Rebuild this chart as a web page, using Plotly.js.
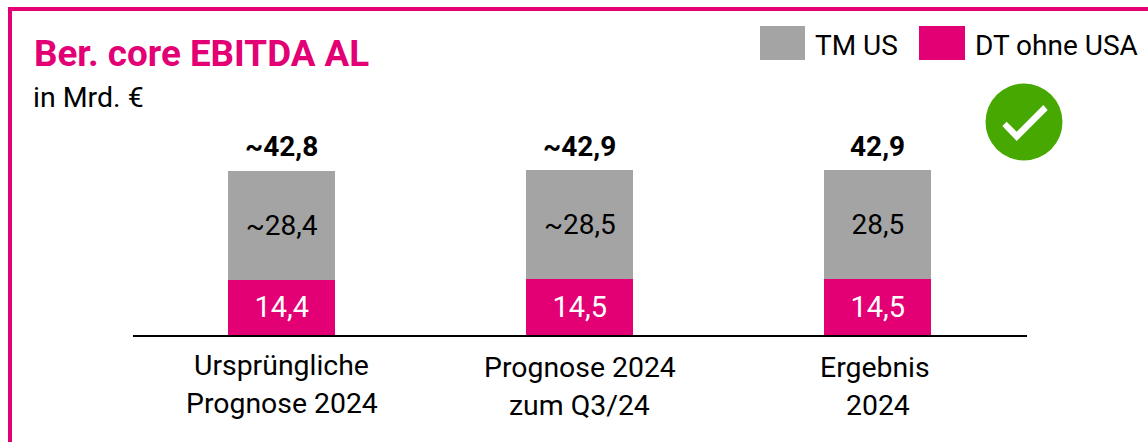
<!DOCTYPE html>
<html>
<head>
<meta charset="utf-8">
<script src="https://cdn.plot.ly/plotly-3.0.1.min.js"></script>
<style>html,body{margin:0;padding:0;background:#fff}#chart{width:1148px;height:442px}</style>
</head>
<body>
<div id="chart"></div>
<script>
var categories = ["Ursprüngliche Prognose 2024", "Prognose 2024 zum Q3/24", "Ergebnis 2024"];
var catLine1 = ["Ursprüngliche", "Prognose 2024", "Ergebnis"];
var catLine2 = ["Prognose 2024", "zum Q3/24", "2024"];
var dtOhneUsa = [14.4, 14.5, 14.5];
var tmUs = [28.4, 28.5, 28.5];
var totals = [42.8, 42.9, 42.9];
var dtLabels = ["14,4", "14,5", "14,5"];
var tmLabels = ["~28,4", "~28,5", "28,5"];
var totalLabels = ["~42,8", "~42,9", "42,9"];

var W = 1148, H = 442;
var MAGENTA = "#E20074", GRAY = "#A4A4A4", GREEN = "#46A800";
var FONT = "Roboto, Inter, sans-serif";
function px(x){ return x / W; }
function py(y){ return 1 - y / H; }
function txt(text, x, y, size, color, anchor, bold){
  return {text: bold ? "<b>"+text+"</b>" : text, xref:"paper", yref:"paper", x:px(x), y:py(y),
    xanchor:anchor, yanchor:"middle", showarrow:false,
    font:{family:FONT, size:size, color:color}};
}
function rect(x0,y0,x1,y1,color){
  return {type:"rect", xref:"paper", yref:"paper", x0:px(x0), x1:px(x1), y0:py(y0), y1:py(y1),
    fillcolor:color, line:{width:0}, layer:"above"};
}

var annotations = [
  txt("Ber. core EBITDA AL", 32, 53, 36.8, MAGENTA, "left", true),
  txt("in Mrd. €", 31, 97, 28.5, "#000", "left"),
  txt("TM US", 813, 46, 28, "#000", "left"),
  txt("DT ohne USA", 973, 46, 28, "#000", "left")
];
var lineYs = [[365,403],[367,405],[367,405]];
var line1Dx = [0, 0, -2.5];
categories.forEach(function(c,i){
  var cx = 132.5 + 298*(i+0.5);
  annotations.push(txt(catLine1[i], cx + line1Dx[i], lineYs[i][0], 28.4, "#000", "center"));
  annotations.push(txt(catLine2[i], cx, lineYs[i][1], 28.4, "#000", "center"));
  annotations.push({text:"<b>"+totalLabels[i]+"</b>", xref:"x", yref:"y", x:c, y:totals[i],
    xanchor:"center", yanchor:"bottom", yshift:6, showarrow:false,
    font:{family:FONT, size:28, color:"#000"}});
});

var shapes = [
  rect(8,7,1148,11,MAGENTA),
  rect(8,7,12,442,MAGENTA),
  rect(760,26,805,60,GRAY),
  rect(919,26,965,60,MAGENTA),
  {type:"circle", xref:"paper", yref:"paper", x0:px(985.5), x1:px(1062.5), y0:py(83.5), y1:py(160.5),
   fillcolor:GREEN, line:{width:0}, layer:"above"},
  {type:"path", xref:"paper", yref:"paper",
   path:"M "+[[1006.7,121.7],[1002.3,126],[1016.7,141],[1047.7,110],[1043.3,105],[1016.7,131.7]]
     .map(function(p){return px(p[0])+","+py(p[1]);}).join(" L ")+" Z",
   fillcolor:"#fff", line:{width:0}, layer:"above"}
];

var traces = [
  {type:"bar", name:"DT ohne USA", x:categories, y:dtOhneUsa, text:dtLabels, marker:{color:MAGENTA},
   textposition:"inside", insidetextanchor:"middle", textangle:0, constraintext:"none",
   textfont:{family:FONT, size:29, color:"#fff"}, hoverinfo:"skip", cliponaxis:false},
  {type:"bar", name:"TM US", x:categories, y:tmUs, text:tmLabels, marker:{color:GRAY},
   textposition:"inside", insidetextanchor:"middle", textangle:0, constraintext:"none",
   textfont:{family:FONT, size:28, color:"#000"}, hoverinfo:"skip", cliponaxis:false}
];

var layout = {
  width:W, height:H, margin:{l:0,r:0,t:0,b:0,pad:0},
  paper_bgcolor:"#fff", plot_bgcolor:"#fff",
  barmode:"stack", bargap:0.642, showlegend:false,
  xaxis:{domain:[px(132.8),px(1026.8)], type:"category", range:[-0.5,2.5], fixedrange:true,
    showticklabels:false, ticks:"", showgrid:false, zeroline:false,
    showline:true, linecolor:"#000", linewidth:2},
  yaxis:{domain:[py(335),py(99)], range:[0,236/3.83], fixedrange:true, visible:false, showgrid:false, zeroline:false},
  annotations:annotations, shapes:shapes
};
Plotly.newPlot("chart", traces, layout, {displayModeBar:false, staticPlot:true});
</script>
</body>
</html>
